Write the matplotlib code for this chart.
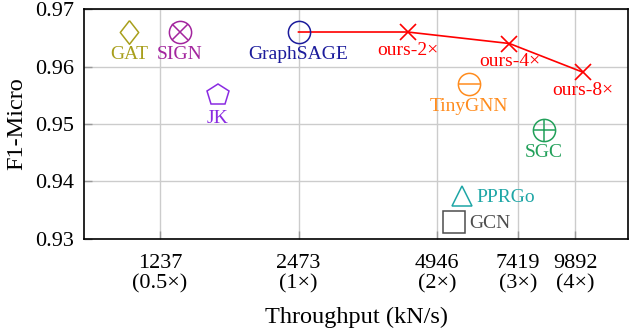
import matplotlib
matplotlib.use('Agg')
import matplotlib.pyplot as plt
from matplotlib.ticker import FixedLocator, NullLocator

plt.rcParams['font.family'] = ['Liberation Serif', 'DejaVu Serif']

# baselines: name, throughput (kN/s), F1-micro
names = ['GAT', 'SIGN', 'JK', 'GraphSAGE', 'TinyGNN', 'SGC', 'PPRGo', 'GCN']
throughput = [1059, 1365, 1649, 2473, 5804, 8460, 5595, 5391]
f1 = [0.966, 0.966, 0.955, 0.966, 0.957, 0.949, 0.9375, 0.933]
colors = ['#a89f1c', '#a3259e', '#8a2be2', '#1c1c9c', '#ff8c1e', '#22a05a', '#1ea6a6', '#4d4d4d']

# ours (line starts at GraphSAGE = 1x)
ours_names = ['ours-2×', 'ours-4×', 'ours-8×']
ours_tp = [2473, 4269, 7108, 10271]
ours_f1 = [0.966, 0.966, 0.964, 0.959]

xticks = [1237, 2473, 4946, 7419, 9892]
xticklabels = ['1237\n(0.5×)', '2473\n(1×)', '4946\n(2×)', '7419\n(3×)', '9892\n(4×)']
yticks = [0.93, 0.94, 0.95, 0.96, 0.97]

fig = plt.figure(figsize=(6.3, 3.3), dpi=100)
ax = fig.add_axes([0.1333, 0.2758, 0.8643, 0.6969])
ax.set_xscale('log')
ax.set_xlim(845, 12900)
ax.set_ylim(0.93, 0.97)

ax.xaxis.set_major_locator(FixedLocator(xticks))
ax.xaxis.set_minor_locator(NullLocator())
ax.set_xticklabels(xticklabels, fontsize=16, linespacing=1.05)
ax.set_yticks(yticks)
ax.set_yticklabels(['%.2f' % v for v in yticks], fontsize=16)
ax.tick_params(direction='in', length=6, color='#999999', width=1)
ax.tick_params(axis='x', pad=11)
ax.tick_params(axis='y', pad=7)
ax.grid(True, color='#cccccc', linewidth=1)
ax.set_axisbelow(True)
for s in ax.spines.values():
    s.set_linewidth(1.2)

ax.set_xlabel('Throughput (kN/s)', fontsize=17.5, labelpad=10)
ax.set_ylabel('F1-Micro', fontsize=17.5, labelpad=6)

ms = 16
mew = 1.1
diamond = [(0, 1), (0.78, 0), (0, -1), (-0.78, 0), (0, 1)]
markers = {'GAT': [diamond], 'SIGN': ['o', 'x'], 'JK': ['p'], 'GraphSAGE': ['o'],
           'TinyGNN': ['o', '_'], 'SGC': ['o', '+'], 'PPRGo': ['^'], 'GCN': ['s']}
sizes = {'o': ms, 'x': ms * 0.707, '_': ms, '+': ms, 'p': 16.5, '^': 14, 's': 16}

# red line
ax.plot(ours_tp, ours_f1, color='red', lw=1.2, zorder=3)
ax.plot(ours_tp[1:], ours_f1[1:], 'x', color='red', ms=11, mew=1.2, zorder=4)
for n, x, y in zip(ours_names, ours_tp[1:], ours_f1[1:]):
    ax.annotate(n, (x, y), xytext=(0, -13), textcoords='offset points',
                ha='center', va='center', color='red', fontsize=14)

for n, x, y, c in zip(names, throughput, f1, colors):
    for m in markers[n]:
        size = sizes.get(m, 17) if isinstance(m, str) else 17
        ax.plot(x, y, marker=m, ms=size, mfc='none', mec=c, mew=mew, zorder=5)
    if n in ('PPRGo', 'GCN'):
        ax.annotate(n, (x, y), xytext=(11, -1.5), textcoords='offset points',
                    ha='left', va='center', color=c, fontsize=14)
    else:
        ax.annotate(n, (x, y), xytext=(0, -16.5), textcoords='offset points',
                    ha='center', va='center', color=c, fontsize=14)

fig.savefig('out.png', dpi=100)
